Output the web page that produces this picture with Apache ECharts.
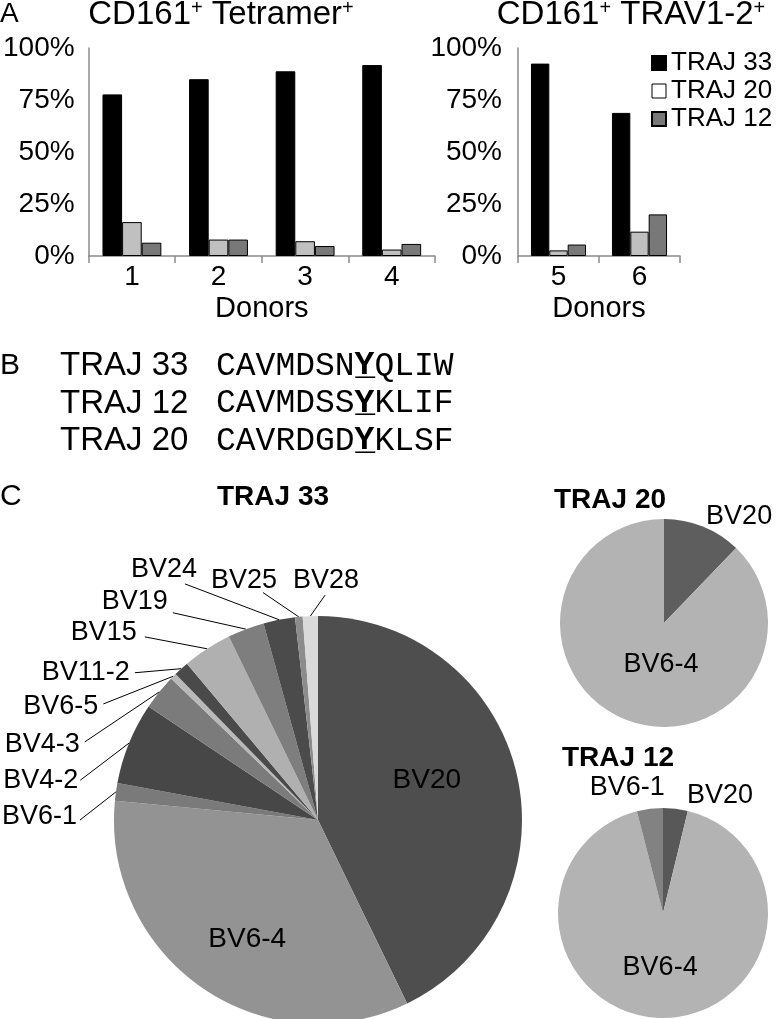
<!DOCTYPE html>
<html><head><meta charset="utf-8">
<script src="https://cdn.jsdelivr.net/npm/echarts@6/dist/echarts.min.js"></script>
<style>html,body{margin:0;padding:0;background:#fff}#c{width:777px;height:1019px}</style>
</head><body><div id="c"></div>
<script>
// ---- data ----
const donorsA = ['1', '2', '3', '4'];
const donorsB = ['5', '6'];
const seriesNames = ['TRAJ 33', 'TRAJ 20', 'TRAJ 12'];
const traj33A = [77.7, 85.0, 88.8, 91.8];
const traj20A = [16.3, 7.9, 7.1, 3.1];
const traj12A = [6.4, 7.9, 4.8, 5.8];
const traj33B = [92.5, 68.8];
const traj20B = [2.7, 11.7];
const traj12B = [5.5, 20.0];

const bvNames33 = ['BV20', 'BV6-4', 'BV6-1', 'BV4-2', 'BV4-3', 'BV6-5', 'BV11-2', 'BV15', 'BV19', 'BV24', 'BV25', 'BV28'];
const bvValues33 = [42.8, 33.7, 1.4, 6.5, 2.8, 0.5, 1.2, 3.9, 2.9, 2.5, 0.6, 1.2];
const bvNames20 = ['BV20', 'BV6-4'];
const bvValues20 = [12.2, 87.8];
const bvNames12 = ['BV20', 'BV6-4', 'BV6-1'];
const bvValues12 = [3.8, 92.2, 4.0];

const seqLabels = ['TRAJ 33', 'TRAJ 12', 'TRAJ 20'];
const seqPre = ['CAVMDSN', 'CAVMDSS', 'CAVRDGD'];
const seqKey = ['Y', 'Y', 'Y'];
const seqPost = ['QLIW', 'KLIF', 'KLSF'];

// ---- styles ----
const FONT = "'Liberation Sans', Arial, Helvetica, sans-serif";
const MONO = "'Liberation Mono', 'DejaVu Sans Mono', monospace";
const barColors = ['#000000', '#c0c0c0', '#787878'];
const pieColors33 = ['#4e4e4e', '#939393', '#7a7a7a', '#474747', '#7b7b7b', '#b9b9b9', '#4a4a4a', '#b0b0b0', '#7e7e7e', '#4b4b4b', '#8c8c8c', '#dadada'];
const pieColors20 = ['#5e5e5e', '#b3b3b3'];
const pieColors12 = ['#585858', '#b3b3b3', '#828282'];

const C33 = [318, 820], C20 = [664, 623], C12 = [663, 913];

function polar(c, deg, r) {
  const a = deg * Math.PI / 180;
  return [c[0] + r * Math.sin(a), c[1] - r * Math.cos(a)];
}
// label placement: [angle, distance from centre, dx, dy, align, drawLine]
const spec33 = {
  'BV20': [69.8, 116, 0, 0, 'center'],
  'BV6-4': [210.6, 139, 0, 0, 'center'],
  'BV6-1': [270, 238, -3, -3, 'right', 1],
  'BV4-2': [279.5, 241, -2, 0, 'right', 1],
  'BV4-3': [288.5, 246, -5, 3, 'right', 1],
  'BV6-5': [298.4, 244, -5, 3, 'right', 1],
  'BV11-2': [308.8, 235, -5, 0, 'right', 1],
  'BV15': [316.6, 252, -8, -4, 'right', 1],
  'BV19': [325, 253, -5, -11, 'right', 1],
  'BV24': [330.6, 271, 12, -14, 'right', 1],
  'BV25': [346.4, 234, 14, -12, 'right', 1],
  'BV28': [1.8, 225, 1, -15, 'center', 1]
};
const spec20 = { 'BV20': [35.3, 130, 0, 0, 'center'], 'BV6-4': [184, 42, 0, 0, 'center'] };
const spec12 = { 'BV6-1': [344, 130, 0, 0, 'center'], 'BV20': [25.8, 131, 0, 0, 'center'], 'BV6-4': [183, 55, 0, 0, 'center'] };

function makeLayout(center, names, spec) {
  return function (params) {
    const s = spec[names[params.dataIndex]];
    if (!s) return {};
    const p = polar(center, s[0], s[1]);
    const out = { x: p[0] + s[2], y: p[1] + s[3], align: s[4], verticalAlign: 'middle' };
    if (s[5] && params.labelLinePoints) out.labelLinePoints = [params.labelLinePoints[0], p];
    return out;
  };
}

function pieData(names, values, colors, innerNames) {
  return names.map((n, i) => {
    const d = { name: n, value: values[i], itemStyle: { color: colors[i] } };
    if (innerNames.indexOf(n) >= 0) { d.label = { fontSize: 28 }; d.labelLine = { show: false }; }
    return d;
  });
}

const axisLineStyle = { color: '#8a8a8a', width: 1.5 };
function xAxisFor(idx, cats) {
  return {
    type: 'category', gridIndex: idx, data: cats,
    axisLine: { lineStyle: axisLineStyle },
    axisTick: { show: true, length: 7, lineStyle: axisLineStyle },
    axisLabel: { fontSize: 28, color: '#000', fontFamily: FONT, margin: 7 },
    name: 'Donors', nameLocation: 'middle', nameGap: 38,
    nameTextStyle: { fontSize: 29, color: '#000', fontFamily: FONT }
  };
}
function yAxisFor(idx, margin) {
  return {
    type: 'value', gridIndex: idx, min: 0, max: 100, interval: 25,
    axisLine: { show: true, lineStyle: axisLineStyle },
    axisTick: { show: false },
    splitLine: { show: false },
    axisLabel: { formatter: '{value}%', fontSize: 28, color: '#000', fontFamily: FONT, margin: margin }
  };
}
function barSeries(name, data, colorIdx, gridIdx) {
  return {
    type: 'bar', name: name, data: data, xAxisIndex: gridIdx, yAxisIndex: gridIdx,
    barGap: '0%', barCategoryGap: '32%',
    itemStyle: { color: barColors[colorIdx], borderColor: '#000', borderWidth: 1 },
    emphasis: { disabled: true }, silent: true
  };
}

const supRich = {
  a: { fontSize: 33, fontFamily: FONT, color: '#000', lineHeight: 34 },
  s: { fontSize: 20, fontFamily: FONT, color: '#000', lineHeight: 34, verticalAlign: 'top' }
};
const plainStyle = (txt, size, align, weight) => ({
  text: txt, fontSize: size, fontWeight: weight || 'normal', fontFamily: FONT, fill: '#000',
  align: align, verticalAlign: 'middle', textAlign: align, textVerticalAlign: 'middle'
});

const graphics = [
  { type: 'text', x: 0, y: 14, style: plainStyle('A', 28, 'left') },
  { type: 'text', x: 221, y: 15, style: { text: '{a|CD161}{s|+}{a| Tetramer}{s|+}', rich: supRich, align: 'center', verticalAlign: 'middle', textAlign: 'center', textVerticalAlign: 'middle' } },
  { type: 'text', x: 631, y: 15, style: { text: '{a|CD161}{s|+}{a| TRAV1-2}{s|+}', rich: supRich, align: 'center', verticalAlign: 'middle', textAlign: 'center', textVerticalAlign: 'middle' } },
  { type: 'text', x: 0, y: 366, style: plainStyle('B', 30, 'left') },
  { type: 'text', x: 0, y: 497, style: plainStyle('C', 30, 'left') },
  { type: 'text', x: 273, y: 497, style: plainStyle('TRAJ 33', 28, 'center', 'bold') },
  { type: 'text', x: 610, y: 500, style: plainStyle('TRAJ 20', 28, 'center', 'bold') },
  { type: 'text', x: 618, y: 758, style: plainStyle('TRAJ 12', 28, 'center', 'bold') }
];
const seqRich = {
  n: { fontSize: 33, fontFamily: MONO, color: '#000' },
  y: { fontSize: 33, fontFamily: MONO, color: '#000', fontWeight: 'bold' }
};
seqLabels.forEach((lab, i) => {
  const yy = 366 + i * 37.5;
  graphics.push({ type: 'text', x: 60, y: yy, style: plainStyle(lab, 33, 'left') });
  graphics.push({ type: 'text', x: 216, y: yy, style: { text: '{n|' + seqPre[i] + '}{y|' + seqKey[i] + '\u0332}{n|' + seqPost[i] + '}', rich: seqRich, align: 'left', verticalAlign: 'middle', textAlign: 'left', textVerticalAlign: 'middle' } });
});

const option = {
  animation: false,
  backgroundColor: '#fff',
  textStyle: { fontFamily: FONT },
  grid: [
    { left: 86, top: 48, width: 349, height: 208 },
    { left: 518, top: 48, width: 162, height: 208 }
  ],
  xAxis: [xAxisFor(0, donorsA), xAxisFor(1, donorsB)],
  yAxis: [yAxisFor(0, 14), yAxisFor(1, 16)],
  legend: {
    orient: 'vertical', left: 651, top: 50, padding: 0, itemWidth: 14, itemHeight: 14, itemGap: 2,
    icon: 'rect', selectedMode: false,
    textStyle: { fontSize: 26, color: '#000', fontFamily: FONT },
    data: [
      { name: seriesNames[0] },
      { name: seriesNames[1], itemStyle: { color: '#ffffff', borderColor: '#000', borderWidth: 1 } },
      { name: seriesNames[2] }
    ]
  },
  series: [
    barSeries(seriesNames[0], traj33A, 0, 0),
    barSeries(seriesNames[1], traj20A, 1, 0),
    barSeries(seriesNames[2], traj12A, 2, 0),
    barSeries(seriesNames[0], traj33B, 0, 1),
    barSeries(seriesNames[1], traj20B, 1, 1),
    barSeries(seriesNames[2], traj12B, 2, 1),
    {
      type: 'pie', center: C33, radius: 204, startAngle: 90, clockwise: true,
      avoidLabelOverlap: false, silent: true, emphasis: { disabled: true },
      data: pieData(bvNames33, bvValues33, pieColors33, ['BV20', 'BV6-4']),
      label: { show: true, fontSize: 27, color: '#000', fontFamily: FONT },
      labelLine: { show: true, length: 10, length2: 0, lineStyle: { color: '#000', width: 1 } },
      labelLayout: makeLayout(C33, bvNames33, spec33)
    },
    {
      type: 'pie', center: C20, radius: 104, startAngle: 90, clockwise: true,
      avoidLabelOverlap: false, silent: true, emphasis: { disabled: true },
      data: pieData(bvNames20, bvValues20, pieColors20, []),
      label: { show: true, fontSize: 27, color: '#000', fontFamily: FONT },
      labelLine: { show: false },
      labelLayout: makeLayout(C20, bvNames20, spec20)
    },
    {
      type: 'pie', center: C12, radius: 105, startAngle: 90, clockwise: true,
      avoidLabelOverlap: false, silent: true, emphasis: { disabled: true },
      data: pieData(bvNames12, bvValues12, pieColors12, []),
      label: { show: true, fontSize: 27, color: '#000', fontFamily: FONT },
      labelLine: { show: false },
      labelLayout: makeLayout(C12, bvNames12, spec12)
    }
  ],
  graphic: graphics
};
const chart = echarts.init(document.getElementById('c'));
chart.setOption(option);
</script>
</body></html>
